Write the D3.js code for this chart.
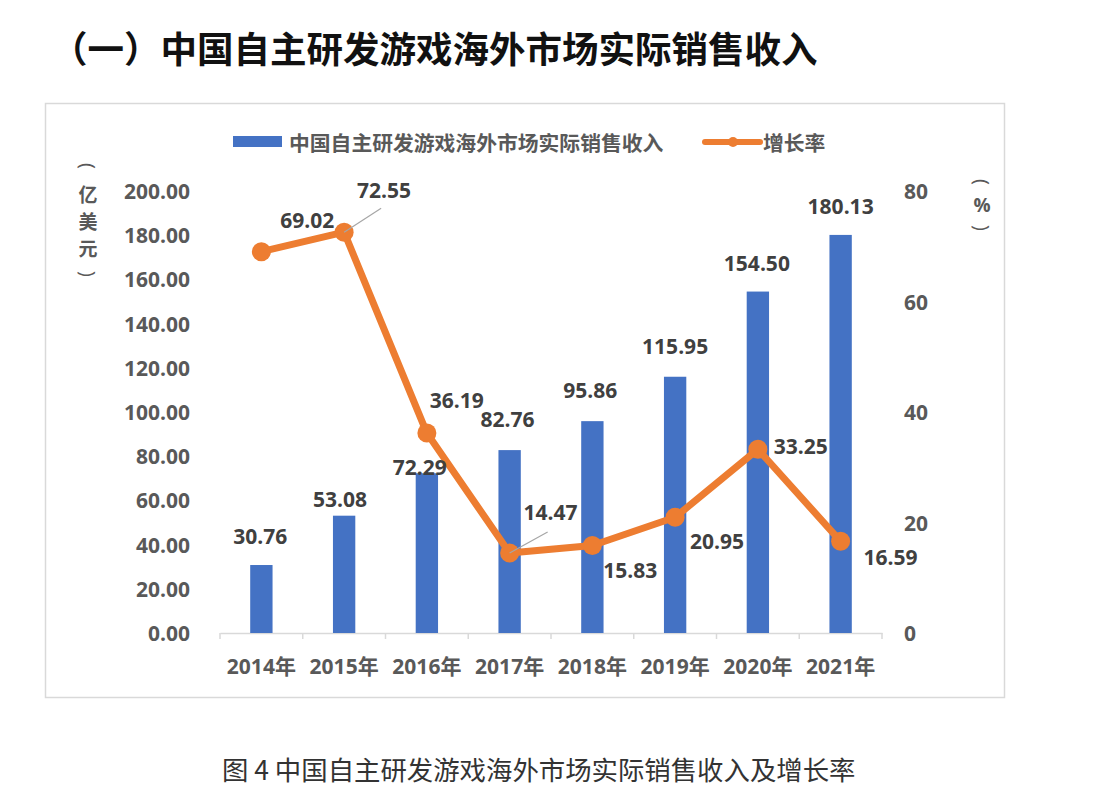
<!DOCTYPE html>
<html>
<head>
<meta charset="utf-8">
<script src="https://cdn.jsdelivr.net/npm/d3@7/dist/d3.min.js"></script>
<style>
  html, body { margin: 0; padding: 0; background: #ffffff; }
  svg { display: block; }
</style>
</head>
<body>
<svg id="chart" width="1094" height="800"></svg>
<script>
// ---- data ----
const categories = ["2014年", "2015年", "2016年", "2017年", "2018年", "2019年", "2020年", "2021年"];
const revenue = [30.76, 53.08, 72.29, 82.76, 95.86, 115.95, 154.50, 180.13];
const growth = [69.02, 72.55, 36.19, 14.47, 15.83, 20.95, 33.25, 16.59];
const leftTicks = [0, 20, 40, 60, 80, 100, 120, 140, 160, 180, 200];
const rightTicks = [0, 20, 40, 60, 80];
const pageTitle = "（一）中国自主研发游戏海外市场实际销售收入";
const caption = "图 4 中国自主研发游戏海外市场实际销售收入及增长率";
const barName = "中国自主研发游戏海外市场实际销售收入";
const lineName = "增长率";
const leftUnit = ["(", "亿", "美", "元", ")"];
const rightUnit = ["(", "%", ")"];

// ---- label placement (manual, as in the original) ----
const barLabelOffsets = [[-1, -29], [-4, -17], [-7, -6], [-2, -31], [-2, -31], [0, -31], [-1, -29], [0, -29]];
const lineLabelOffsets = [[46, -32], [40, -42], [30, -33], [41, -41], [38, 24], [42, 24], [43, -3], [50, 16]];
const leaderLines = [null, [37, -24], null, [38, -21], null, null, null, null];

const BLUE = "#4472C4", ORANGE = "#ED7D31";
const NUM_FONT = "'Open Sans', 'Noto Sans CJK SC', sans-serif";
const CJK_FONT = "'Noto Sans CJK SC', 'Noto Sans', sans-serif";

const svg = d3.select("#chart");

// page title
svg.append("text")
  .attr("x", 51).attr("y", 47)
  .attr("dominant-baseline", "central")
  .attr("font-family", CJK_FONT)
  .attr("font-weight", 700)
  .attr("font-size", 36.5)
  .attr("fill", "#111")
  .text(pageTitle);

// chart frame
svg.append("rect")
  .attr("x", 45.5).attr("y", 103.5)
  .attr("width", 959).attr("height", 594)
  .attr("fill", "#fff")
  .attr("stroke", "#d9d9d9").attr("stroke-width", 1.5);

// scales
const x = d3.scaleBand().domain(categories).range([220, 882]).padding(0);
const yL = d3.scaleLinear().domain([0, 200]).range([633, 191]);
const yR = d3.scaleLinear().domain([0, 80]).range([633, 191]);
const barW = x.bandwidth() * 0.27;
const cx = c => x(c) + x.bandwidth() / 2;

// left axis labels
svg.append("g").selectAll("text").data(leftTicks).join("text")
  .attr("x", 190).attr("y", d => yL(d))
  .attr("text-anchor", "end").attr("dominant-baseline", "central")
  .attr("font-family", NUM_FONT).attr("font-weight", 700).attr("font-size", 21)
  .attr("fill", "#595959")
  .text(d => d3.format(".2f")(d));

// right axis labels
svg.append("g").selectAll("text").data(rightTicks).join("text")
  .attr("x", 904).attr("y", d => yR(d))
  .attr("text-anchor", "start").attr("dominant-baseline", "central")
  .attr("font-family", NUM_FONT).attr("font-weight", 700).attr("font-size", 21)
  .attr("fill", "#595959")
  .text(d => d);

// unit titles (vertical, parentheses turned sideways)
function unitColumn(chars, x0, y0, step) {
  const g = svg.append("g");
  g.selectAll("text").data(chars).join("text")
    .attr("transform", (d, i) => {
      const yy = y0 + i * step;
      return (d === "(" || d === ")") ? `translate(${x0},${yy}) rotate(90)` : `translate(${x0},${yy})`;
    })
    .attr("text-anchor", "middle").attr("dominant-baseline", "central")
    .attr("font-family", (d) => (d === "(" || d === ")" || d === "%") ? NUM_FONT : CJK_FONT)
    .attr("font-weight", d => (d === "(" || d === ")") ? 400 : 700)
    .attr("font-size", d => (d === "(" || d === ")") ? 20 : 19)
    .attr("fill", "#595959")
    .text(d => d);
}
unitColumn(leftUnit, 88, 166, 27);
unitColumn(rightUnit, 982, 182, 23);

// x axis
const xAxis = d3.axisBottom(x).tickSize(0).tickSizeOuter(0).tickPadding(0);
const gx = svg.append("g").attr("transform", "translate(0,633)").call(xAxis);
gx.select(".domain").attr("stroke", "#d9d9d9").attr("stroke-width", 1.5);
gx.selectAll(".tick text")
  .attr("y", 33).attr("dy", null)
  .attr("dominant-baseline", "central")
  .attr("font-family", NUM_FONT).attr("font-weight", 700).attr("font-size", 21)
  .attr("fill", "#595959");
// boundary tick marks
const bounds = categories.map(c => x(c)).concat([x.range()[1]]);
svg.append("g").selectAll("line").data(bounds).join("line")
  .attr("x1", d => d).attr("x2", d => d)
  .attr("y1", 633).attr("y2", 639)
  .attr("stroke", "#d9d9d9").attr("stroke-width", 1.5);

// bars
svg.append("g").selectAll("rect").data(revenue).join("rect")
  .attr("x", (d, i) => cx(categories[i]) - barW / 2)
  .attr("y", d => yL(d))
  .attr("width", barW)
  .attr("height", d => yL(0) - yL(d))
  .attr("fill", BLUE);

// line
const pts = growth.map((v, i) => [cx(categories[i]), yR(v)]);
svg.append("path")
  .attr("d", d3.line()(pts))
  .attr("fill", "none").attr("stroke", ORANGE)
  .attr("stroke-width", 7).attr("stroke-linejoin", "round");
svg.append("g").selectAll("circle").data(pts).join("circle")
  .attr("cx", d => d[0]).attr("cy", d => d[1]).attr("r", 9.5)
  .attr("fill", ORANGE);

// leader lines
svg.append("g").selectAll("line").data(pts.map((p, i) => [p, leaderLines[i]]).filter(d => d[1])).join("line")
  .attr("x1", d => d[0][0]).attr("y1", d => d[0][1])
  .attr("x2", d => d[0][0] + d[1][0]).attr("y2", d => d[0][1] + d[1][1])
  .attr("stroke", "#a6a6a6").attr("stroke-width", 1.2);

// bar labels
svg.append("g").selectAll("text").data(revenue).join("text")
  .attr("x", (d, i) => cx(categories[i]) + barLabelOffsets[i][0])
  .attr("y", (d, i) => yL(d) + barLabelOffsets[i][1])
  .attr("text-anchor", "middle").attr("dominant-baseline", "central")
  .attr("font-family", NUM_FONT).attr("font-weight", 700).attr("font-size", 21)
  .attr("fill", "#404040")
  .text(d => d3.format(".2f")(d));

// line labels
svg.append("g").selectAll("text").data(growth).join("text")
  .attr("x", (d, i) => pts[i][0] + lineLabelOffsets[i][0])
  .attr("y", (d, i) => pts[i][1] + lineLabelOffsets[i][1])
  .attr("text-anchor", "middle").attr("dominant-baseline", "central")
  .attr("font-family", NUM_FONT).attr("font-weight", 700).attr("font-size", 21)
  .attr("fill", "#404040")
  .text(d => d3.format(".2f")(d));

// legend
const lg = svg.append("g");
lg.append("rect").attr("x", 233).attr("y", 136).attr("width", 49).attr("height", 11).attr("fill", BLUE);
lg.append("text").attr("x", 289).attr("y", 142)
  .attr("dominant-baseline", "central")
  .attr("font-family", CJK_FONT).attr("font-weight", 700).attr("font-size", 20.8)
  .attr("fill", "#595959").text(barName);
lg.append("line").attr("x1", 705).attr("x2", 760).attr("y1", 142).attr("y2", 142)
  .attr("stroke", ORANGE).attr("stroke-width", 6).attr("stroke-linecap", "round");
lg.append("circle").attr("cx", 733).attr("cy", 142).attr("r", 5).attr("fill", ORANGE);
lg.append("text").attr("x", 763).attr("y", 142)
  .attr("dominant-baseline", "central")
  .attr("font-family", CJK_FONT).attr("font-weight", 700).attr("font-size", 20.8)
  .attr("fill", "#595959").text(lineName);

// caption
svg.append("text")
  .attr("x", 222).attr("y", 768)
  .attr("dominant-baseline", "central")
  .attr("font-family", CJK_FONT).attr("font-weight", 400).attr("font-size", 26.4)
  .attr("fill", "#333")
  .text(caption);
</script>
</body>
</html>
